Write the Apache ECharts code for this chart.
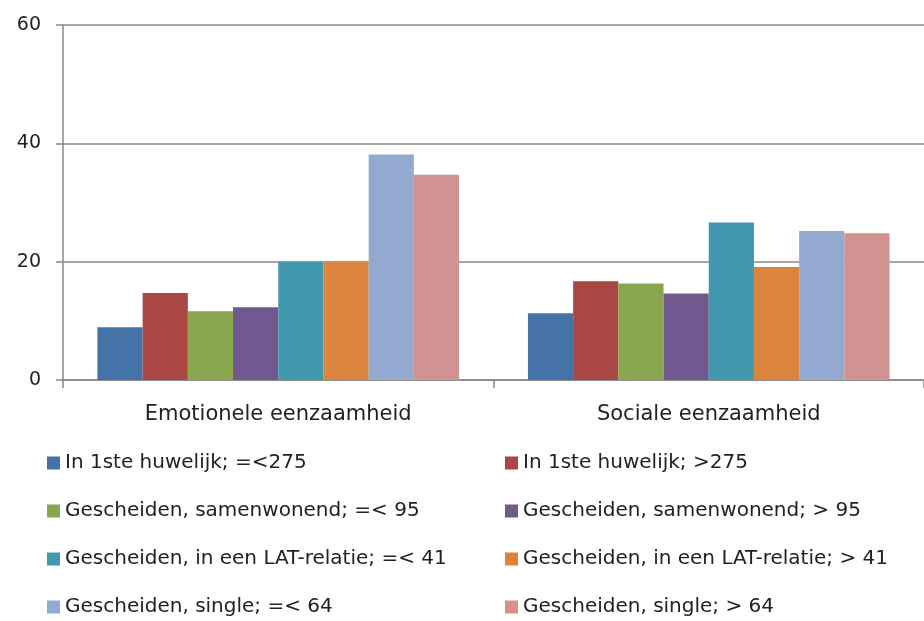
<!DOCTYPE html>
<html>
<head>
<meta charset="utf-8">
<script src="https://cdn.jsdelivr.net/npm/echarts@6/dist/echarts.min.js"></script>
<style>
  html, body { margin: 0; padding: 0; background: #fff; }
  #chart { width: 924px; height: 621px; }
</style>
</head>
<body>
<div id="chart"></div>
<script>
// categories on the x axis
var categories = ['Emotionele eenzaamheid', 'Sociale eenzaamheid'];

// one array per group, [emotioneel, sociaal]
var huwelijkLaag = [8.9, 11.3];
var huwelijkHoog = [14.7, 16.7];
var samenwonendLaag = [11.6, 16.3];
var samenwonendHoog = [12.3, 14.6];
var latLaag = [20.0, 26.6];
var latHoog = [20.0, 19.1];
var singleLaag = [38.1, 25.2];
var singleHoog = [34.7, 24.8];

var seriesNames = [
  'In 1ste huwelijk; =<275',
  'In 1ste huwelijk; >275',
  'Gescheiden, samenwonend; =< 95',
  'Gescheiden, samenwonend; > 95',
  'Gescheiden, in een LAT-relatie; =< 41',
  'Gescheiden, in een LAT-relatie; > 41',
  'Gescheiden, single; =< 64',
  'Gescheiden, single; > 64'
];
var seriesData = [huwelijkLaag, huwelijkHoog, samenwonendLaag, samenwonendHoog,
  latLaag, latHoog, singleLaag, singleHoog];
var colors = ['#4572A7', '#AA4643', '#89A54E', '#71588F',
  '#4198AF', '#DB843D', '#93A9CF', '#D19392'];

var yTicks = [0, 20, 40, 60];

var fontName = 'DejaVu Sans';

var chart = echarts.init(document.getElementById('chart'));

var series = seriesNames.map(function (name, i) {
  return {
    name: name,
    type: 'bar',
    data: seriesData[i],
    barGap: 0,
    barCategoryGap: '16%',
    itemStyle: { color: colors[i] },
    animation: false
  };
});

// two legend columns: left gets the even series, right the odd ones
function legendBlock(left, names) {
  return {
    orient: 'vertical',
    left: left,
    top: 453,
    padding: 0,
    itemWidth: 13,
    itemHeight: 13,
    itemGap: 28,
    icon: 'rect',
    data: names,
    textStyle: { fontFamily: fontName, fontSize: 20, color: '#222' }
  };
}

chart.setOption({
  color: colors,
  animation: false,
  grid: { left: 63, top: 25, width: 864, height: 355 },
  legend: [
    legendBlock(47, seriesNames.filter(function (n, i) { return i % 2 === 0; })),
    legendBlock(505, seriesNames.filter(function (n, i) { return i % 2 === 1; }))
  ],
  xAxis: {
    type: 'category',
    data: categories,
    axisLine: { lineStyle: { color: '#888', width: 1.5 } },
    axisTick: { show: true, length: 8, lineStyle: { color: '#888', width: 1.5 } },
    axisLabel: { fontFamily: fontName, fontSize: 21, color: '#222', margin: 24 }
  },
  yAxis: {
    type: 'value',
    min: yTicks[0],
    max: yTicks[yTicks.length - 1],
    interval: 20,
    axisLine: { show: true, lineStyle: { color: '#888', width: 1.5 } },
    axisTick: { show: true, length: 7, lineStyle: { color: '#888', width: 1.5 } },
    splitLine: { lineStyle: { color: '#888', width: 1.5 } },
    axisLabel: { fontFamily: fontName, fontSize: 19, color: '#222', margin: 22 }
  },
  series: series
});
</script>
</body>
</html>
